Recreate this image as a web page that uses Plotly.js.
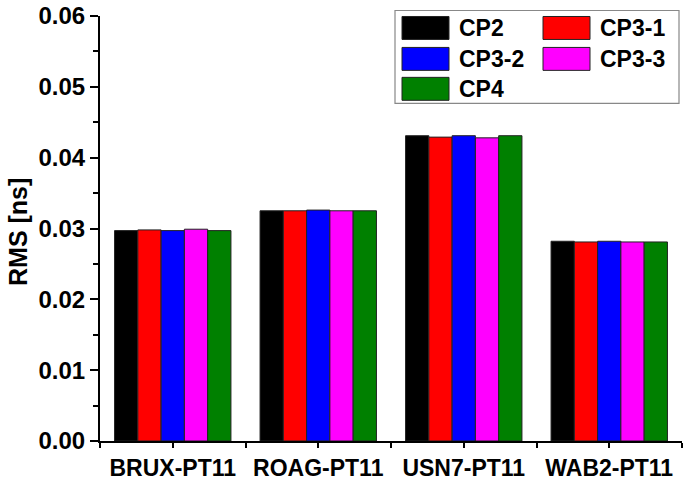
<!DOCTYPE html>
<html>
<head>
<meta charset="utf-8">
<script src="https://cdn.plot.ly/plotly-3.0.1.min.js"></script>
<style>html,body{margin:0;padding:0;background:#fff;}#chart{width:685px;height:480px;}</style>
</head>
<body>
<div id="chart"></div>
<script>
const categories = ["BRUX-PT11", "ROAG-PT11", "USN7-PT11", "WAB2-PT11"];
const seriesNames = ["CP2", "CP3-1", "CP3-2", "CP3-3", "CP4"];
const seriesColors = ["#000000", "#ff0000", "#0000ff", "#ff00ff", "#008000"];
const CP2   = [0.0297, 0.0325, 0.0431, 0.0282];
const CP3_1 = [0.0298, 0.0325, 0.0429, 0.0281];
const CP3_2 = [0.0297, 0.0326, 0.0431, 0.0282];
const CP3_3 = [0.0299, 0.0325, 0.0428, 0.0281];
const CP4   = [0.0297, 0.0325, 0.0431, 0.0281];
const seriesValues = [CP2, CP3_1, CP3_2, CP3_3, CP4];
const yTickVals = [0, 0.01, 0.02, 0.03, 0.04, 0.05, 0.06];
const yTitle = "RMS [ns]";

const W = 685, H = 480;
const L = 100, R = 3, T = 15.5, B = 38.5;
const pw = W - L - R, ph = H - T - B;
const px = x => (x - L) / pw;
const py = y => (H - B - y) / ph;

const fontBold = {family: "Liberation Sans, Arial, sans-serif", size: 24, color: "#000", weight: "bold"};
const xIdx = categories.map((c, i) => i);

const traces = seriesNames.map((n, k) => ({
  type: "bar",
  name: n,
  x: xIdx,
  y: seriesValues[k],
  marker: {color: seriesColors[k], line: {color: "#222", width: 1}},
  showlegend: false,
  hoverinfo: "y"
}));

// custom legend
const shapes = [{
  type: "rect", xref: "paper", yref: "paper",
  x0: px(395), x1: px(679), y0: py(103), y1: py(10),
  line: {color: "#888", width: 1.2}, fillcolor: "rgba(255,255,255,1)", layer: "above"
}];
const annotations = [{
  xref: "paper", yref: "paper", x: px(18), y: py(232),
  xanchor: "center", yanchor: "middle", textangle: -90,
  text: yTitle, showarrow: false,
  font: {family: "Liberation Sans, Arial, sans-serif", size: 25, color: "#000", weight: "bold"}
}];
const colSw = [[402, 449], [543, 590]];
const colTx = [457, 598];
const rows = [[16, 39], [47, 70], [77, 100]];
seriesNames.forEach((n, k) => {
  const c = k % 2, r = Math.floor(k / 2);
  shapes.push({
    type: "rect", xref: "paper", yref: "paper",
    x0: px(colSw[c][0]), x1: px(colSw[c][1]), y0: py(rows[r][1]), y1: py(rows[r][0]),
    fillcolor: seriesColors[k], line: {color: "#222", width: 1}, layer: "above"
  });
  annotations.push({
    xref: "paper", yref: "paper", x: px(colTx[c]), y: py((rows[r][0] + rows[r][1]) / 2),
    xanchor: "left", yanchor: "middle", text: n, showarrow: false,
    font: Object.assign({}, fontBold, {size: 23})
  });
});

const layout = {
  width: W, height: H,
  margin: {l: L, r: R, t: T, b: B, pad: 0},
  paper_bgcolor: "#fff", plot_bgcolor: "#fff",
  barmode: "group", bargap: 0.2, bargroupgap: 0,
  font: fontBold,
  xaxis: {
    range: [-0.5, 3.5], tickvals: xIdx, ticktext: categories,
    showgrid: false, zeroline: false, showline: true, linecolor: "#000", linewidth: 2,
    ticks: "outside", ticklen: 5, tickwidth: 2, tickcolor: "#000",
    minor: {dtick: 1, tick0: 0.5, ticks: "outside", ticklen: 5, tickwidth: 2, tickcolor: "#000", showgrid: false},
    tickfont: Object.assign({}, fontBold, {size: 23}), automargin: false, fixedrange: true
  },
  yaxis: {
    range: [0, 0.06], tickvals: yTickVals, tickformat: ".2f",
    showgrid: false, zeroline: false, showline: true, linecolor: "#000", linewidth: 2,
    ticks: "outside", ticklen: 8, tickwidth: 2, tickcolor: "#000",
    minor: {dtick: 0.005, tick0: 0, ticks: "outside", ticklen: 5, tickwidth: 2, tickcolor: "#000", showgrid: false},
    tickfont: fontBold,
    automargin: false, fixedrange: true
  },
  shapes: shapes,
  annotations: annotations
};

Plotly.newPlot("chart", traces, layout, {displayModeBar: false, staticPlot: true});
</script>
</body>
</html>
